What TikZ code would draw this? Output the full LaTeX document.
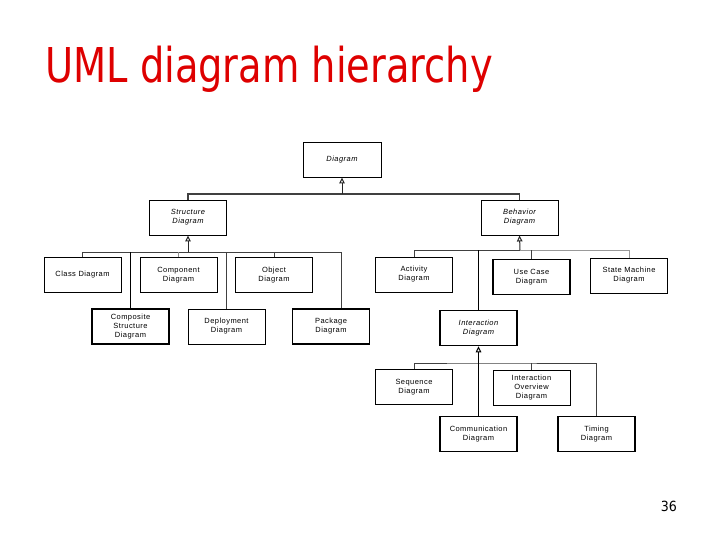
\documentclass[tikz,border=0pt]{standalone}
\usepackage{fontspec}
\setmainfont{Liberation Sans}
\newfontfamily\titlefont{DejaVu Sans}
\usetikzlibrary{arrows.meta}
\definecolor{titlered}{RGB}{222,0,0}
\begin{document}
\begin{tikzpicture}[x=1pt,y=-1pt,
 box/.style={draw=black, line width=0.9pt, minimum width=77pt, minimum height=35pt, inner sep=0pt, align=center,
   font=\fontsize{7.5}{9}\selectfont\addfontfeatures{LetterSpace=6}, text=black},
 boxthick/.style={box, line width=1.6pt},
 ital/.style={font=\fontsize{7.5}{9}\selectfont\itshape\addfontfeatures{LetterSpace=6}},
 bus/.style={draw=black!75, line width=1pt},
 busthick/.style={draw=black, line width=1.8pt},
 gen/.style={draw=black!85, line width=1pt, -{Triangle[open, length=6pt, width=5.5pt, line width=1pt]}},
]
\useasboundingbox (0,0) rectangle (720,540);

\node[anchor=base west, inner sep=0pt, text=titlered] (title) at (45,83)
  {\scalebox{0.8}[1]{\titlefont\fontsize{48}{48}\selectfont UML diagram hierarchy}};
\node[anchor=base east, inner sep=0pt] (page) at (677,511)
  {\scalebox{0.9}[1]{\titlefont\fontsize{14}{14}\selectfont 36}};

% level 0/1
\node[box, ital, minimum width=78pt] (diagram) at (342,159.5) {Diagram};
\node[box, ital] (structure) at (188,217.5) {Structure\\Diagram};
\node[box, ital] (behavior) at (519.5,217.5) {Behavior\\Diagram};

% structure children
\node[box] (class) at (82.5,275) {Class Diagram};
\node[box] (component) at (178.5,275) {Component\\Diagram};
\node[box] (object) at (274,275) {Object\\Diagram};
\node[boxthick] (composite) at (130.5,326.5) {Composite\\Structure\\Diagram};
\node[box] (deployment) at (226.5,326.5) {Deployment\\Diagram};
\node[boxthick] (package) at (331,326.5) {Package\\Diagram};

% behavior children
\node[box] (activity) at (414,274.5) {Activity\\Diagram};
\node[boxthick] (usecase) at (531.5,277) {Use Case\\Diagram};
\node[box] (statemachine) at (629,275.5) {State Machine\\Diagram};
\node[boxthick, ital] (interaction) at (478.5,328) {Interaction\\Diagram};

% interaction children
\node[boxthick] (sequence) at (414,387) {Sequence\\Diagram};
\node[box] (overview) at (531.5,387.5) {Interaction\\Overview\\Diagram};
\node[boxthick] (communication) at (478.5,434) {Communication\\Diagram};
\node[boxthick] (timing) at (596.5,434) {Timing\\Diagram};

% Diagram generalization
\coordinate (b1) at (342,194);
\draw[bus, line width=1.6pt] (structure.north) |- (b1) -| (behavior.north);
\draw[gen] (b1) -- (diagram.south);

% Structure generalization
\coordinate (b2) at (188,252);
\coordinate (b2r) at (341,252);
\draw[bus] (class.north) |- (b2r) -- (b2r |- package.north);
\draw[bus, draw=black!45] (component.north) -- (component.north |- b2);
\draw[bus] (object.north) -- (object.north |- b2);
\draw[busthick] (composite.north) -- (composite.north |- b2);
\draw[bus] (deployment.north) -- (deployment.north |- b2);
\draw[gen] (b2) -- (structure.south);

% Behavior generalization
\coordinate (b3) at (520,250);
\draw[bus] (activity.north) |- (b3);
\draw[bus, draw=black!40] (b3) -| (statemachine.north);
\draw[busthick] (interaction.north) -- (interaction.north |- b3);
\draw[bus] (usecase.north) -- (usecase.north |- b3);
\draw[gen] (b3) -- (behavior.south);

% Interaction generalization
\coordinate (b4) at (478.5,363);
\draw[bus] (sequence.north) |- (b4) -| (timing.north);
\draw[bus] (overview.north) -- (overview.north |- b4);
\draw[busthick] (communication.north) -- (b4);
\draw[gen, draw=black, line width=1.6pt, -{Triangle[open, length=6pt, width=5.5pt, line width=1pt]}] (b4) -- (interaction.south);
\end{tikzpicture}
\end{document}
